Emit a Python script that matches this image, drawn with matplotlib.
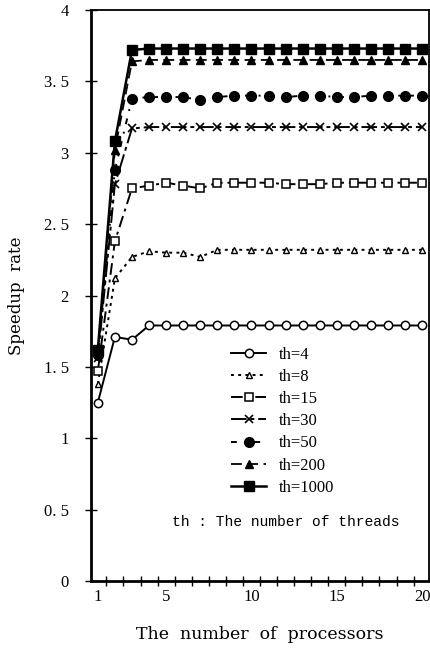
import matplotlib
matplotlib.use("Agg")
import matplotlib.pyplot as plt
import numpy as np

processors = list(range(1, 21))
th4 = [1.25, 1.71, 1.69, 1.79, 1.79, 1.79, 1.79, 1.79, 1.79, 1.79, 1.79, 1.79, 1.79, 1.79, 1.79, 1.79, 1.79, 1.79, 1.79, 1.79]
th8 = [1.38, 2.12, 2.27, 2.31, 2.30, 2.30, 2.27, 2.32, 2.32, 2.32, 2.32, 2.32, 2.32, 2.32, 2.32, 2.32, 2.32, 2.32, 2.32, 2.32]
th15 = [1.47, 2.38, 2.75, 2.77, 2.79, 2.77, 2.75, 2.79, 2.79, 2.79, 2.79, 2.78, 2.78, 2.78, 2.79, 2.79, 2.79, 2.79, 2.79, 2.79]
th30 = [1.56, 2.78, 3.17, 3.18, 3.18, 3.18, 3.18, 3.18, 3.18, 3.18, 3.18, 3.18, 3.18, 3.18, 3.18, 3.18, 3.18, 3.18, 3.18, 3.18]
th50 = [1.58, 2.88, 3.38, 3.39, 3.39, 3.39, 3.37, 3.39, 3.40, 3.40, 3.40, 3.39, 3.40, 3.40, 3.39, 3.39, 3.40, 3.40, 3.40, 3.40]
th200 = [1.60, 3.02, 3.64, 3.65, 3.65, 3.65, 3.65, 3.65, 3.65, 3.65, 3.65, 3.65, 3.65, 3.65, 3.65, 3.65, 3.65, 3.65, 3.65, 3.65]
th1000 = [1.62, 3.08, 3.72, 3.73, 3.73, 3.73, 3.73, 3.73, 3.73, 3.73, 3.73, 3.73, 3.73, 3.73, 3.73, 3.73, 3.73, 3.73, 3.73, 3.73]
labels = ["th=4", "th=8", "th=15", "th=30", "th=50", "th=200", "th=1000"]
ytick_vals = [0, 0.5, 1, 1.5, 2, 2.5, 3, 3.5, 4]
ytick_labels = ["0", "0. 5", "1", "1. 5", "2", "2. 5", "3", "3. 5", "4"]
xtick_vals = [1, 5, 10, 15, 20]

plt.rcParams['font.family'] = ['Liberation Serif', 'DejaVu Serif']

fig = plt.figure(figsize=(4.31, 6.53), dpi=100)
ax = fig.add_axes([91/431, 1-581/653, 338/431, 571/653])

k = 'black'
ax.plot(processors, th4, color=k, lw=1.4, ls='-', marker='o', ms=6, mfc='white', mec=k, mew=1.1, label=labels[0])
ax.plot(processors, th8, color=k, lw=1.4, ls=(0, (1.5, 2.2)), marker='^', ms=5, mfc='white', mec=k, mew=1.0, label=labels[1])
ax.plot(processors, th15, color=k, lw=1.4, ls=(0, (6, 2.5, 1.5, 2.5)), marker='s', ms=6, mfc='white', mec=k, mew=1.1, label=labels[2])
ax.plot(processors, th30, color=k, lw=1.4, ls=(0, (8, 2, 2, 2)), marker='x', ms=6, mec=k, mew=1.2, label=labels[3])
ax.plot(processors, th50, color=k, lw=1.4, ls=(0, (3, 4, 1, 4)), marker='o', ms=7, mfc=k, mec=k, label=labels[4])
ax.plot(processors, th200, color=k, lw=1.3, ls=(0, (6, 3)), marker='^', ms=5.5, mfc=k, mec=k, label=labels[5])
ax.plot(processors, th1000, color=k, lw=1.8, ls='-', marker='s', ms=6.5, mfc=k, mec=k, label=labels[6])

ax.set_xlim(0.6, 20.4)
ax.set_ylim(0, 4)
ax.set_yticks(ytick_vals)
ax.set_yticklabels(ytick_labels)
ax.set_xticks(xtick_vals)
ax.set_xticks(np.arange(1.5, 20, 1.0), minor=True)
ax.tick_params(axis='x', which='major', length=0, pad=6, labelsize=12)
ax.tick_params(axis='x', which='minor', direction='inout', length=7, width=1)
ax.tick_params(axis='y', which='major', direction='inout', length=8, width=1, labelsize=12, pad=12)
for s in ['left', 'bottom']:
    ax.spines[s].set_linewidth(2)
for s in ['top', 'right']:
    ax.spines[s].set_linewidth(1.3)

ax.set_ylabel("Speedup  rate", fontsize=12, family=['DejaVu Serif'])
ax.yaxis.set_label_coords(-0.195, 0.5)
ax.set_xlabel("The  number  of  processors", fontsize=12.5, labelpad=15, family=['DejaVu Serif'])

leg = ax.legend(loc='upper left', bbox_to_anchor=(0.395, 0.422), frameon=False,
                fontsize=12, handlelength=2.1, labelspacing=0.37, handletextpad=0.75,
                borderaxespad=0)

ax.text(0.914, 0.097, "th : The number of threads", transform=ax.transAxes, ha='right',
        fontsize=10.5, family=['Liberation Mono', 'DejaVu Sans Mono'])

fig.savefig("out.png", dpi=100)
